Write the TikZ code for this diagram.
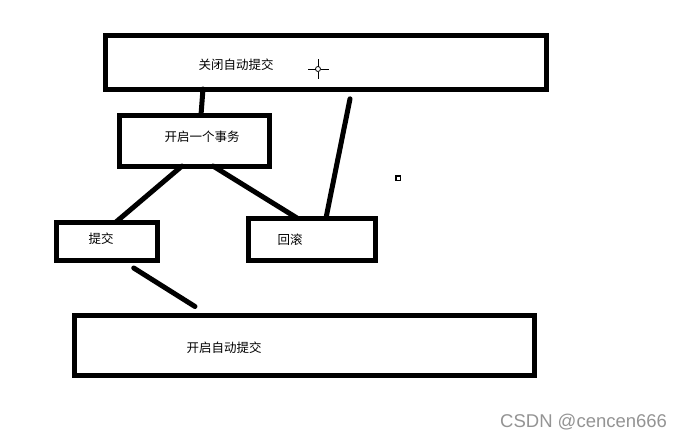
\documentclass[tikz,border=0pt]{standalone}
\usepackage{fontspec}
\setmainfont{Liberation Sans}
\newfontfamily\cjk{Noto Sans CJK SC}
\usetikzlibrary{positioning}

\begin{document}
\begin{tikzpicture}[x=1pt, y=-1pt,
    box/.style={draw, line width=5pt, inner sep=0pt, outer sep=0pt},
    wire/.style={line width=5pt, line cap=round},
    txt/.style={font=\cjk\fontsize{12.5}{14}\selectfont, inner sep=0pt}]
  \useasboundingbox[fill=white] (0,0) rectangle (686,437);

  % boxes
  \node[box, minimum width=441pt, minimum height=54pt] (close) at (325.5,62) {};
  \node[txt] (closetxt) at (236,65) {关闭自动提交};
  \node[box, minimum width=150pt, minimum height=51pt] (txn) at (194,140.5) {};
  \node[txt] (txntxt) at (202,137) {开启一个事务};
  \node[box, minimum width=101pt, minimum height=38pt] (commit) at (106.5,241) {};
  \node[txt] (committxt) at (101,239) {提交};
  \node[box, minimum width=127pt, minimum height=42pt] (rollback) at (311.5,239) {};
  \node[txt] (rollbacktxt) at (290,240) {回滚};
  \node[box, minimum width=460pt, minimum height=60pt] (auto) at (304,345) {};
  \node[txt] (autotxt) at (224,348) {开启自动提交};

  % connectors
  \draw[wire] ([xshift=-122.5pt]close.south) -- ([xshift=7pt]txn.north);
  \draw[wire, shorten <=10pt] ([xshift=26.5pt]close.south) -- ([xshift=14.5pt]rollback.north);
  \draw[wire] ([xshift=-12pt]txn.south) -- ([xshift=9.5pt]commit.north);
  \draw[wire] ([xshift=19pt]txn.south) -- ([xshift=-14.5pt]rollback.north);
  \draw[wire, shorten <=15pt, shorten >=16pt] ([xshift=14.5pt]commit.south) -- ([xshift=-95.5pt]auto.north);

  % cursor and dot
  \draw[line width=0.8pt] (318,69) circle (2.5);
  \draw[line width=0.8pt] (308,69) -- (315.5,69) (320.5,69) -- (329,69)
    (318,59) -- (318,66.5) (318,71.5) -- (318,79);
  \draw[line width=1.2pt] (396,176) rectangle (400.5,180.5);

  % watermark
  \node[font=\fontsize{18.5}{20}\selectfont, text=black!42, inner sep=0pt, anchor=base west] (mark) at (500,427) {CSDN @cencen666};
\end{tikzpicture}
\end{document}
